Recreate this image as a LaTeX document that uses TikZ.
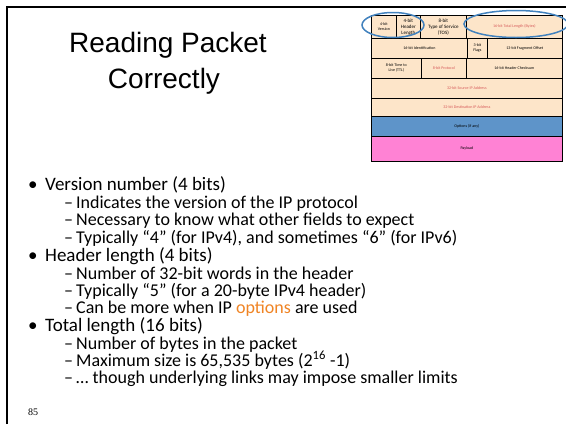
\documentclass[tikz,border=0pt]{standalone}
\usepackage{fontspec}
\setmainfont{Carlito}
\newfontfamily\headfont{Liberation Sans}
\newfontfamily\pagefont{Liberation Serif}
\usepackage{tikz}
\usetikzlibrary{positioning, shapes.geometric}
\definecolor{hdrfill}{RGB}{253,229,201}
\definecolor{optblue}{RGB}{94,148,201}
\definecolor{payfill}{RGB}{255,130,212}
\definecolor{ringblue}{RGB}{66,130,190}
\definecolor{fieldred}{RGB}{214,90,90}
\definecolor{optorange}{RGB}{240,132,36}

\begin{document}
\begin{tikzpicture}[
  x=1pt, y=-1pt,
  cell/.style={draw, line width=0.7pt, fill=hdrfill, inner sep=0pt, align=center, anchor=north west, font=\fontsize{4}{5}\selectfont},
  ring/.style={draw=ringblue, line width=1.5pt, ellipse, inner sep=0pt},
  lvlone/.style={anchor=base west, inner sep=0pt, font=\fontsize{19}{22}\selectfont},
  lvltwo/.style={anchor=base west, inner sep=0pt, font=\fontsize{18}{20}\selectfont}
]
  \useasboundingbox (0,0) rectangle (566,424);
  \fill[white] (0,0) rectangle (566,424);

  % slide frame
  \draw[line width=2pt] (7,424) -- (7,7) -- (566,7);

  % Title
  \node[anchor=base, inner sep=0pt, font=\headfont\fontsize{28}{34}\selectfont] (title1) at (168,52) {Reading Packet};
  \node[anchor=base, inner sep=0pt, font=\headfont\fontsize{28}{34}\selectfont] (title2) at (164,88) {Correctly};

  % IPv4 header, row 1
  \node[cell, minimum width=25pt, minimum height=23pt] (ver) at (371,15) {4-bit\\Version};
  \node[cell, minimum width=24pt, minimum height=23pt, font=\fontsize{5}{6}\selectfont] (hlen) at (396,15) {4-bit\\Header\\Length};
  \node[cell, minimum width=46pt, minimum height=23pt, font=\fontsize{5}{6}\selectfont] (tos) at (420,15) {8-bit\\Type of Service\\(TOS)};
  \node[cell, minimum width=96pt, minimum height=23pt, text=fieldred] (tlen) at (466,15) {16-bit Total Length (Bytes)};
  % row 2
  \node[cell, minimum width=96pt, minimum height=20pt] (ident) at (371,38) {16-bit Identification};
  \node[cell, minimum width=20pt, minimum height=20pt] (flags) at (467,38) {3-bit\\Flags};
  \node[cell, minimum width=75pt, minimum height=20pt] (frag) at (487,38) {13-bit Fragment Offset};
  % row 3
  \node[cell, minimum width=50pt, minimum height=20pt] (ttl) at (371,58) {8-bit Time to\\Live (TTL)};
  \node[cell, minimum width=45pt, minimum height=20pt, text=fieldred] (proto) at (421,58) {8-bit Protocol};
  \node[cell, minimum width=96pt, minimum height=20pt] (cksum) at (466,58) {16-bit Header Checksum};
  % addresses, options, payload
  \node[cell, minimum width=191pt, minimum height=20pt, text=fieldred] (src) at (371,78) {32-bit Source IP Address};
  \node[cell, minimum width=191pt, minimum height=18pt, text=fieldred] (dst) at (371,98) {32-bit Destination IP Address};
  \node[cell, minimum width=191pt, minimum height=20pt, fill=optblue] (opts) at (371,116) {Options (if any)};
  \node[cell, minimum width=191pt, minimum height=25pt, fill=payfill] (pay) at (371,136) {Payload};

  % highlighted fields
  \node[ring, minimum width=62pt, minimum height=25pt] (ring1) at (393,25) {};
  \node[ring, minimum width=104pt, minimum height=27pt] (ring2) at (516,24) {};

  % Version number
  \node[lvlone] (ver1) at (45,190) {\llap{\makebox[17pt][l]{•}}Version number (4 bits)};
  \node[lvltwo] (ver2) at (76,208.5) {\llap{\makebox[12pt][l]{–}}Indicates the version of the IP protocol};
  \node[lvltwo] (ver3) at (76,225.5) {\llap{\makebox[12pt][l]{–}}Necessary to know what other fields to expect};
  \node[lvltwo] (ver4) at (76,243) {\llap{\makebox[12pt][l]{–}}Typically “4” (for IPv4), and sometimes “6” (for IPv6)};

  % Header length
  \node[lvlone] (hl1) at (45,261) {\llap{\makebox[17pt][l]{•}}Header length (4 bits)};
  \node[lvltwo] (hl2) at (76,279) {\llap{\makebox[12pt][l]{–}}Number of 32-bit words in the header};
  \node[lvltwo] (hl3) at (76,296) {\llap{\makebox[12pt][l]{–}}Typically “5” (for a 20-byte IPv4 header)};
  \node[lvltwo] (hl4) at (76,313) {\llap{\makebox[12pt][l]{–}}Can be more when IP \textcolor{optorange}{options} are used};

  % Total length
  \node[lvlone] (tl1) at (45,331) {\llap{\makebox[17pt][l]{•}}Total length (16 bits)};
  \node[lvltwo] (tl2) at (76,349) {\llap{\makebox[12pt][l]{–}}Number of bytes in the packet};
  \node[lvltwo] (tl3) at (76,366) {\llap{\makebox[12pt][l]{–}}Maximum size is 65,535 bytes (2\textsuperscript{16} -1)};
  \node[lvltwo] (tl4) at (76,383) {\llap{\makebox[12pt][l]{–}}… though underlying links may impose smaller limits};

  \node[anchor=base west, inner sep=0pt, font=\pagefont\fontsize{10}{12}\selectfont] (pagenum) at (28,415) {85};
\end{tikzpicture}
\end{document}
